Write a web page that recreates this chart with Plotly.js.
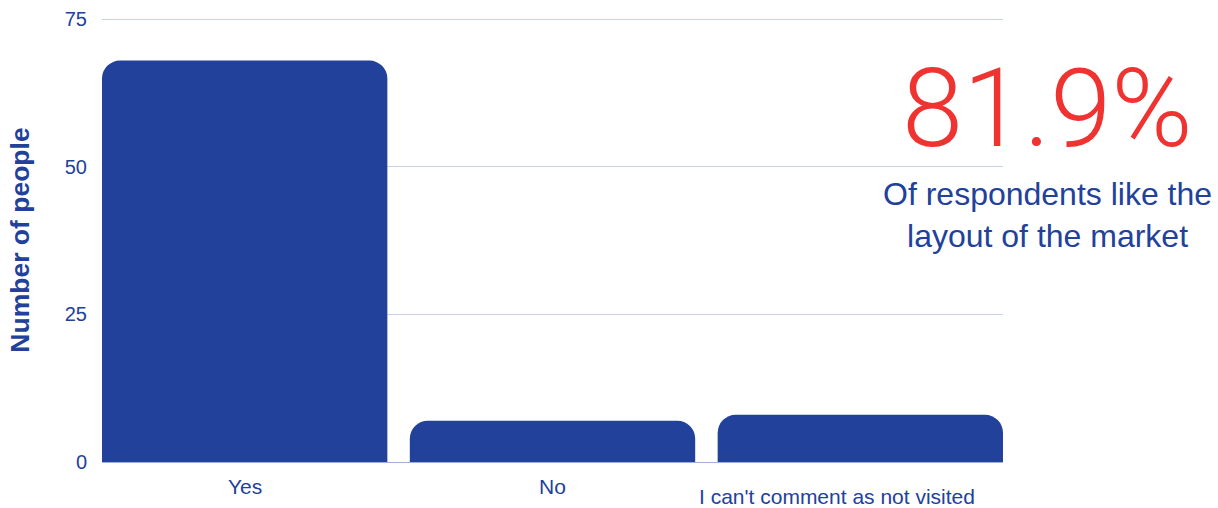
<!DOCTYPE html>
<html>
<head>
<meta charset="utf-8">
<script src="https://cdn.plot.ly/plotly-3.0.1.min.js"></script>
<style>html,body{margin:0;padding:0;background:#fff;}#chart{width:1218px;height:508px;}</style>
</head>
<body>
<div id="chart"></div>
<script>
const categories = ["Yes", "No", "I can't comment as not visited"];
const counts = [68, 7, 8];
const yTicks = [0, 25, 50, 75];
const headline = "81.9%";
const headlineCaption = "Of respondents like the<br>layout of the market";
const yTitle = "Number of people";

const blue = "#22419a";
const trace = {
  type: "bar",
  x: categories,
  y: counts,
  marker: {color: blue, cornerradius: 18},
  hoverinfo: "none"
};

const labelAnnotations = categories.map((c, i) => ({
  x: c, xref: "x", y: 0, yref: "y",
  text: c, showarrow: false,
  yanchor: "top", xanchor: "center",
  yshift: i === 2 ? -21 : -11,
  xshift: i === 2 ? -23 : 0,
  font: {family: "Liberation Sans, Arial, sans-serif", size: 21, color: blue}
}));

const layout = {
  width: 1218, height: 508,
  margin: {l: 102, r: 215, t: 18, b: 46},
  paper_bgcolor: "#fff", plot_bgcolor: "#fff",
  bargap: 0.073,
  showlegend: false,
  xaxis: {
    type: "category",
    range: [-0.4635, 2.4635],
    showticklabels: false,
    showgrid: false, zeroline: false,
    showline: false, ticks: ""
  },
  yaxis: {
    range: [0, 75.2],
    tickvals: yTicks,
    ticktext: yTicks.map(String),
    showgrid: true, gridcolor: "#c9d1e9", gridwidth: 1,
    zeroline: true, zerolinecolor: "#9fb0dc", zerolinewidth: 1,
    showline: false, ticks: "",
    ticklabelstandoff: 14,
    tickfont: {family: "Liberation Sans, Arial, sans-serif", size: 20, color: blue},
    title: {text: yTitle, standoff: 27,
      font: {family: "Liberation Sans, Arial, sans-serif", size: 26.5, color: blue, weight: "bold"}}
  },
  annotations: labelAnnotations.concat([
    {xref: "paper", yref: "paper", x: 1.049, y: 0.797, xanchor: "center", yanchor: "middle",
     text: headline, showarrow: false,
     font: {family: "Roboto, sans-serif", size: 110, color: "#ee3330", weight: 300}},
    {xref: "paper", yref: "paper", x: 1.049, y: 0.556, xanchor: "center", yanchor: "middle",
     text: headlineCaption, showarrow: false, align: "center",
     font: {family: "Liberation Sans, Arial, sans-serif", size: 32, color: blue}}
  ])
};

Plotly.newPlot("chart", [trace], layout, {displayModeBar: false, staticPlot: true});
</script>
</body>
</html>
